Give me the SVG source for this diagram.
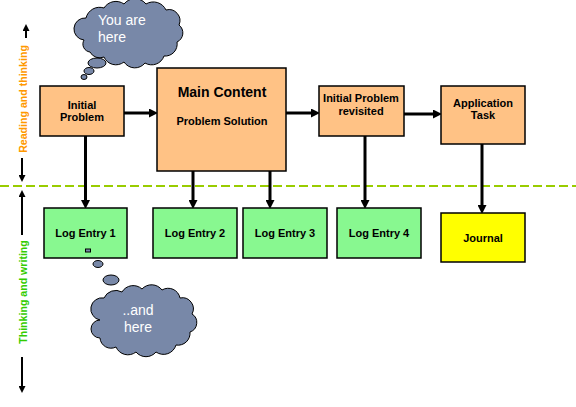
<svg xmlns="http://www.w3.org/2000/svg" width="576" height="407" viewBox="0 0 576 407">
<style>
.box{stroke:#000;stroke-width:1.5}
.orange{fill:#ffc285}
.green{fill:#88f890}
.yellow{fill:#ffff00}
.lbl{font-family:"Liberation Sans",Arial,sans-serif;font-weight:bold;font-size:11px;fill:#000;text-anchor:middle}
.big{font-size:14px}
.con{stroke:#000;stroke-width:3;fill:none}
.side{stroke:#000;stroke-width:2;fill:none}
.cloud{fill:#7888a8;stroke:#000;stroke-width:1}
.ctext{font-family:"Liberation Sans",Arial,sans-serif;font-size:14px;fill:#fff}
.vtext{font-family:"Liberation Sans",Arial,sans-serif;font-weight:bold;font-size:10.6px;text-anchor:middle}
</style>
<defs>
<marker id="ah" markerUnits="userSpaceOnUse" markerWidth="9" markerHeight="9" refX="3" refY="4.5" orient="auto">
<path d="M0,0 L9,4.5 L0,9 z" fill="#000"/>
</marker>
<marker id="sh" markerUnits="userSpaceOnUse" markerWidth="7" markerHeight="7" refX="2" refY="3.5" orient="auto">
<path d="M0,0 L7,3.5 L0,7 z" fill="#000"/>
</marker>
</defs>
<rect width="576" height="407" fill="#fff"/>

<line x1="0" y1="186" x2="576" y2="186" stroke="#99cc00" stroke-width="2" stroke-dasharray="9,4"/>

<g id="side-labels">
<text class="vtext" fill="#ff9900" transform="translate(27,99) rotate(-90)">Reading and thinking</text>
<text class="vtext" fill="#33cc00" transform="translate(27,292) rotate(-90)">Thinking and writing</text>
<line class="side" x1="26" y1="38" x2="26" y2="29" marker-end="url(#sh)"/>
<line class="side" x1="22" y1="158" x2="22" y2="177" marker-end="url(#sh)"/>
<line class="side" x1="22" y1="235" x2="22" y2="195" marker-end="url(#sh)"/>
<line class="side" x1="22" y1="357" x2="22" y2="388" marker-end="url(#sh)"/>
</g>

<g id="connectors">
<line class="con" x1="124" y1="113" x2="152" y2="113" marker-end="url(#ah)"/>
<line class="con" x1="286" y1="113" x2="314" y2="113" marker-end="url(#ah)"/>
<line class="con" x1="404" y1="114" x2="436" y2="114" marker-end="url(#ah)"/>
<line class="con" x1="85.5" y1="136" x2="85.5" y2="203" marker-end="url(#ah)"/>
<line class="con" x1="193" y1="171" x2="193" y2="203" marker-end="url(#ah)"/>
<line class="con" x1="270" y1="171" x2="270" y2="203" marker-end="url(#ah)"/>
<line class="con" x1="365" y1="136" x2="365" y2="203" marker-end="url(#ah)"/>
<line class="con" x1="482" y1="144" x2="482" y2="208" marker-end="url(#ah)"/>
</g>

<g id="initial-problem">
<rect class="box orange" x="40" y="86" width="84" height="50"/>
<text class="lbl" x="82" y="109">Initial</text>
<text class="lbl" x="82" y="121">Problem</text>
</g>

<g id="main-content">
<rect class="box orange" x="157" y="68" width="129" height="103"/>
<text class="lbl big" x="222" y="97">Main Content</text>
<text class="lbl" x="222" y="125">Problem Solution</text>
</g>

<g id="initial-problem-revisited">
<rect class="box orange" x="319" y="86" width="85" height="50"/>
<text class="lbl" x="361" y="102">Initial Problem</text>
<text class="lbl" x="361" y="115">revisited</text>
</g>

<g id="application-task">
<rect class="box orange" x="441" y="86" width="84" height="58"/>
<text class="lbl" x="483" y="107">Application</text>
<text class="lbl" x="483" y="119">Task</text>
</g>

<g id="log-entry-1">
<rect class="box green" x="44" y="208" width="83" height="50"/>
<text class="lbl" x="85.5" y="237">Log Entry 1</text>
</g>
<g id="log-entry-2">
<rect class="box green" x="153" y="208" width="84" height="50"/>
<text class="lbl" x="195" y="237">Log Entry 2</text>
</g>
<g id="log-entry-3">
<rect class="box green" x="243" y="208" width="84" height="50"/>
<text class="lbl" x="285" y="237">Log Entry 3</text>
</g>
<g id="log-entry-4">
<rect class="box green" x="337" y="208" width="84" height="50"/>
<text class="lbl" x="379" y="237">Log Entry 4</text>
</g>
<g id="journal">
<rect class="box yellow" x="441" y="213" width="84" height="49"/>
<text class="lbl" x="483" y="242">Journal</text>
</g>

<g id="cloud-top">
<path class="cloud" d="M84,40 A11,11 0 0 1 86,18 A14,14 0 0 1 104,8 A14,14 0 0 1 124,4 A14,14 0 0 1 146,4 A14,14 0 0 1 166,10 A11,11 0 0 1 179,25 A10,10 0 0 1 177,42 A12,12 0 0 1 164,56 A13,13 0 0 1 145,63 A13,13 0 0 1 124,62 A13,13 0 0 1 104,57 A11,11 0 0 1 90,52 A8,8 0 0 1 84,40 z"/>
<ellipse class="cloud" cx="97" cy="63" rx="9" ry="5"/>
<ellipse class="cloud" cx="89" cy="71" rx="5" ry="3.5"/>
<ellipse class="cloud" cx="84" cy="77" rx="3" ry="2.5"/>
<text class="ctext" x="98" y="25">You are</text>
<text class="ctext" x="98" y="42">here</text>
</g>

<g id="cloud-bottom">
<path class="cloud" d="M100,320 A11,11 0 0 1 104,298 A13,13 0 0 1 122,292 A13,13 0 0 1 142,289 A13,13 0 0 1 162,290 A12,12 0 0 1 180,298 A11,11 0 0 1 192,314 A10,10 0 0 1 190,332 A12,12 0 0 1 176,345 A13,13 0 0 1 156,352 A13,13 0 0 1 136,352 A13,13 0 0 1 116,347 A11,11 0 0 1 100,338 A9,9 0 0 1 100,320 z"/>
<rect class="cloud" x="85.5" y="249" width="5" height="3"/>
<ellipse class="cloud" cx="98" cy="264" rx="5" ry="3.5"/>
<ellipse class="cloud" cx="111" cy="280" rx="8" ry="5"/>
<text class="ctext" x="138" y="315" text-anchor="middle">..and</text>
<text class="ctext" x="138" y="332" text-anchor="middle">here</text>
</g>
</svg>
